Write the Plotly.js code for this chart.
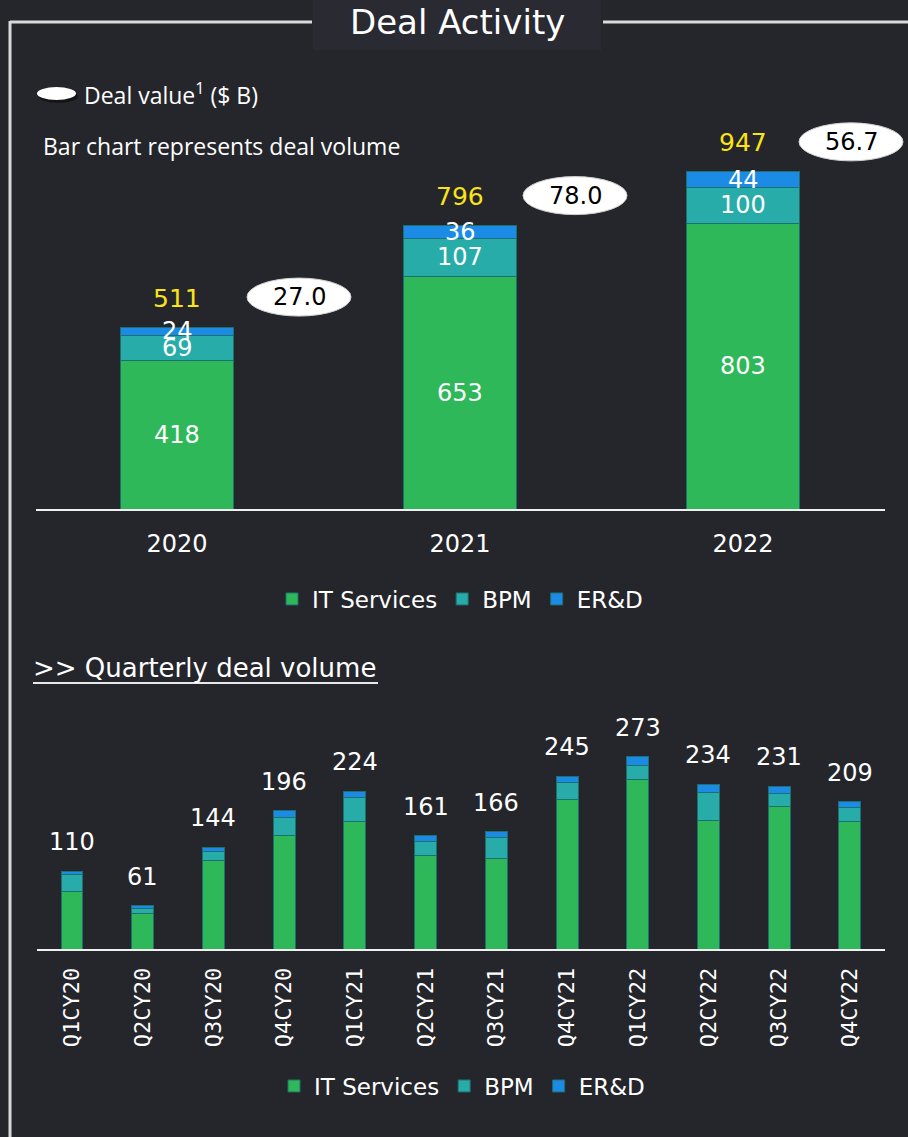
<!DOCTYPE html>
<html><head><meta charset="utf-8">
<script src="https://cdn.plot.ly/plotly-3.0.1.min.js"></script>
<style>html,body{margin:0;padding:0;background:#25262c;overflow:hidden}#chart{width:908px;height:1137px}</style>
</head><body><div id="chart"></div>
<script>
// ---- data ----
const years = ['2020', '2021', '2022'];
const yearIT = [418, 653, 803];
const yearBPM = [69, 107, 100];
const yearERD = [24, 36, 44];
const yearTotal = [511, 796, 947];
const dealValue = [27.0, 78.0, 56.7];

const quarters = ['Q1CY20','Q2CY20','Q3CY20','Q4CY20','Q1CY21','Q2CY21','Q3CY21','Q4CY21','Q1CY22','Q2CY22','Q3CY22','Q4CY22'];
const qIT  = [81, 51, 125, 161, 181, 133, 129, 212, 241, 182, 202, 181];
const qBPM = [24, 6, 13, 26, 34, 19, 29, 24, 20, 40, 18, 20];
const qERD = [5, 4, 6, 9, 9, 9, 8, 9, 12, 12, 11, 8];
const qTotal = [110, 61, 144, 196, 224, 161, 166, 245, 273, 234, 231, 209];

const seriesNames = ['IT Services', 'BPM', 'ER&D'];

// ---- styles ----
const W = 908, H = 1137;
const px = x => x / W, py = y => 1 - y / H;
const colors = ['#2eb859', '#27aca9', '#1b8be6'];
const edge = '#1d706d';
const NUM = 'DejaVu Sans, Verdana, sans-serif';
const TXT = 'Open Sans, DejaVu Sans, sans-serif';

const traces = [];
const yearSeries = [yearIT, yearBPM, yearERD];
const qSeries = [qIT, qBPM, qERD];
seriesNames.forEach((n, i) => {
  traces.push({type: 'bar', x: years, y: yearSeries[i], name: n, xaxis: 'x', yaxis: 'y',
    width: 0.4, marker: {color: colors[i], line: {color: edge, width: 1}}, legend: 'legend',
    hoverinfo: 'skip'});
});
seriesNames.forEach((n, i) => {
  traces.push({type: 'bar', x: quarters, y: qSeries[i], name: n, xaxis: 'x2', yaxis: 'y2',
    width: 0.31, marker: {color: colors[i], line: {color: edge, width: 1}}, legend: 'legend2',
    hoverinfo: 'skip'});
});

const ann = [];
// title
ann.push({text: 'Deal Activity', xref: 'paper', yref: 'paper', x: px(457), y: py(22), showarrow: false,
  font: {family: NUM, size: 34, color: '#ffffff'}, xanchor: 'center', yanchor: 'middle'});
ann.push({text: 'Deal value<sup>1</sup> ($ B)', xref: 'paper', yref: 'paper', x: px(82), y: py(94), showarrow: false,
  font: {family: TXT, size: 23, color: '#ffffff'}, xanchor: 'left', yanchor: 'middle'});
ann.push({text: 'Bar chart represents deal volume', xref: 'paper', yref: 'paper', x: px(41), y: py(146), showarrow: false,
  font: {family: TXT, size: 23, color: '#ffffff'}, xanchor: 'left', yanchor: 'middle'});
ann.push({text: '>> Quarterly deal volume', xref: 'paper', yref: 'paper', x: px(31), y: py(668), showarrow: false,
  font: {family: NUM, size: 26, color: '#ffffff'}, xanchor: 'left', yanchor: 'middle'});

// segment labels (top chart) – x given as category index
years.forEach((yr, j) => {
  let base = 0;
  yearSeries.forEach(s => {
    ann.push({text: String(s[j]), x: j, y: base + s[j] / 2, xref: 'x', yref: 'y', showarrow: false,
      font: {family: NUM, size: 24, color: '#ffffff'}, xanchor: 'center', yanchor: 'middle'});
    base += s[j];
  });
  ann.push({text: String(yearTotal[j]), x: j, y: yearTotal[j], xref: 'x', yref: 'y', showarrow: false, yshift: 29,
    font: {family: NUM, size: 25, color: '#fbe416'}, xanchor: 'center', yanchor: 'middle'});
});
const ovalDx = [122, 115, 108];
years.forEach((yr, j) => {
  ann.push({text: dealValue[j].toFixed(1), x: j, y: yearTotal[j], xref: 'x', yref: 'y', showarrow: false,
    xshift: ovalDx[j], yshift: 30, font: {family: NUM, size: 24, color: '#000000'}, xanchor: 'center', yanchor: 'middle'});
});
// quarterly totals
quarters.forEach((q, j) => {
  ann.push({text: String(qTotal[j]), x: j, y: qTotal[j], xref: 'x2', yref: 'y2', showarrow: false, yshift: 29,
    font: {family: NUM, size: 24, color: '#ffffff'}, xanchor: 'center', yanchor: 'middle'});
});

const shapes = [];
// title box
shapes.push({type: 'rect', xref: 'paper', yref: 'paper', x0: px(313), x1: px(601), y0: py(0), y1: py(50),
  fillcolor: '#292a32', line: {width: 0}, layer: 'below'});
// frame
const frameLine = {color: '#d9d9d9', width: 3};
shapes.push({type: 'line', xref: 'paper', yref: 'paper', x0: px(10), x1: px(312), y0: py(22), y1: py(22), line: frameLine});
shapes.push({type: 'line', xref: 'paper', yref: 'paper', x0: px(603), x1: px(908), y0: py(22), y1: py(22), line: frameLine});
shapes.push({type: 'line', xref: 'paper', yref: 'paper', x0: px(10), x1: px(10), y0: py(21), y1: py(1137), line: frameLine});
// legend oval
shapes.push({type: 'circle', xref: 'paper', yref: 'paper', x0: px(39), x1: px(78), y0: py(90), y1: py(103),
  fillcolor: 'rgba(0,0,0,0.45)', line: {width: 0}});
shapes.push({type: 'circle', xref: 'paper', yref: 'paper', x0: px(37), x1: px(76), y0: py(87), y1: py(100),
  fillcolor: '#ffffff', line: {width: 0}});
// heading underline
shapes.push({type: 'line', xref: 'paper', yref: 'paper', x0: px(33), x1: px(378), y0: py(683), y1: py(683),
  line: {color: '#e8e8e8', width: 2}});
// deal value ovals: anchored at each bar centre (fraction of the x domain) and the bar total
years.forEach((yr, j) => {
  shapes.push({type: 'circle', xref: 'x domain', yref: 'y', xsizemode: 'pixel', ysizemode: 'pixel',
    xanchor: (j + 0.5) / years.length, yanchor: yearTotal[j], x0: ovalDx[j] - 52, x1: ovalDx[j] + 52, y0: 11, y1: 49,
    fillcolor: '#ffffff', line: {color: '#d0d0d0', width: 1}});
});

const axisCommon = {showgrid: false, zeroline: false, fixedrange: true};
const layout = {
  width: W, height: H, margin: {l: 0, r: 0, t: 0, b: 0},
  paper_bgcolor: '#25262c', plot_bgcolor: 'rgba(0,0,0,0)',
  barmode: 'stack', showlegend: true,
  xaxis: Object.assign({}, axisCommon, {domain: [px(35.5), px(884.5)], type: 'category', anchor: 'y',
    range: [-0.5, years.length - 0.5], autorange: false,
    showline: true, linecolor: '#f0f0f0', linewidth: 2, ticks: 'outside', ticklen: 12, tickcolor: 'rgba(0,0,0,0)',
    tickfont: {family: NUM, size: 24, color: '#ffffff'}}),
  yaxis: Object.assign({}, axisCommon, {domain: [py(509), py(60)], range: [0, 449 / 0.356], autorange: false, anchor: 'x',
    showticklabels: false, showline: false}),
  xaxis2: Object.assign({}, axisCommon, {domain: [px(36.6), px(885.3)], type: 'category', anchor: 'y2',
    range: [-0.5, quarters.length - 0.5], autorange: false,
    showline: true, linecolor: '#f0f0f0', linewidth: 2, ticks: 'outside', ticklen: 8, tickcolor: 'rgba(0,0,0,0)',
    tickangle: -90, tickfont: {family: 'DejaVu Sans Mono, monospace', size: 22, color: '#ffffff'}}),
  yaxis2: Object.assign({}, axisCommon, {domain: [py(949), py(700)], range: [0, 249 / 0.705], autorange: false, anchor: 'x2',
    showticklabels: false, showline: false}),
  legend: {orientation: 'h', x: px(460), xanchor: 'center', y: py(599), yanchor: 'middle',
    font: {family: NUM, size: 23, color: '#ffffff'}, bgcolor: 'rgba(0,0,0,0)', traceorder: 'normal'},
  legend2: {orientation: 'h', x: px(462), xanchor: 'center', y: py(1086), yanchor: 'middle',
    font: {family: NUM, size: 23, color: '#ffffff'}, bgcolor: 'rgba(0,0,0,0)', traceorder: 'normal'},
  annotations: ann, shapes: shapes
};
Plotly.newPlot('chart', traces, layout, {staticPlot: true, displayModeBar: false});
</script></body></html>
